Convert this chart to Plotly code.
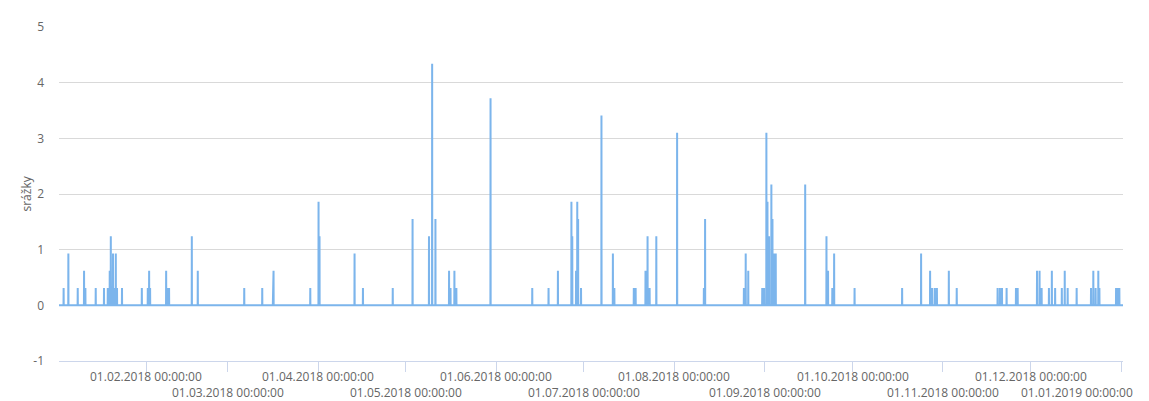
import pandas as pd
import plotly.graph_objects as go

# rain gauge readings (time of reading, mm); everything else is 0
event_times = [
    "2018-01-03 18:00", "2018-01-05 09:00", "2018-01-08 14:00", "2018-01-10 18:00",
    "2018-01-11 05:00", "2018-01-14 18:00", "2018-01-17 14:00", "2018-01-18 21:00",
    "2018-01-19 13:00", "2018-01-19 22:00", "2018-01-20 06:00", "2018-01-20 16:00",
    "2018-01-21 03:00", "2018-01-21 15:00", "2018-01-22 01:00", "2018-01-23 18:00",
    "2018-01-30 13:00", "2018-02-01 14:00", "2018-02-02 01:00", "2018-02-02 09:00",
    "2018-02-07 21:00", "2018-02-08 11:00", "2018-02-08 21:00", "2018-02-16 16:00",
    "2018-02-18 17:00", "2018-03-06 15:00", "2018-03-12 19:00", "2018-03-16 11:00",
    "2018-03-16 16:00", "2018-03-29 06:00", "2018-04-01 02:00", "2018-04-01 10:00",
    "2018-04-13 10:00", "2018-04-16 07:00", "2018-04-26 12:00", "2018-05-03 07:00",
    "2018-05-08 22:00", "2018-05-10 00:00", "2018-05-11 03:00", "2018-05-15 19:00",
    "2018-05-16 07:00", "2018-05-17 15:00", "2018-05-18 07:00", "2018-05-30 00:00",
    "2018-06-13 07:00", "2018-06-18 21:00", "2018-06-22 02:00", "2018-06-26 17:00",
    "2018-06-27 00:00", "2018-06-28 07:00", "2018-06-28 17:00", "2018-06-29 00:00",
    "2018-06-30 00:00", "2018-07-07 00:00", "2018-07-10 22:00", "2018-07-11 10:00",
    "2018-07-18 02:00", "2018-07-18 17:00", "2018-07-22 02:00", "2018-07-22 19:00",
    "2018-07-23 12:00", "2018-07-25 19:00", "2018-08-01 22:00", "2018-08-11 02:00",
    "2018-08-11 12:00", "2018-08-24 19:00", "2018-08-25 10:00", "2018-08-26 07:00",
    "2018-08-31 02:00", "2018-08-31 17:00", "2018-09-01 12:00", "2018-09-01 21:00",
    "2018-09-02 10:00", "2018-09-03 05:00", "2018-09-03 14:00", "2018-09-04 02:00",
    "2018-09-04 17:00", "2018-09-14 19:00", "2018-09-22 02:00", "2018-09-22 15:00",
    "2018-09-24 02:00", "2018-09-24 17:00", "2018-10-01 17:00", "2018-10-18 00:00",
    "2018-10-24 12:00", "2018-10-27 14:00", "2018-10-28 07:00", "2018-10-29 05:00",
    "2018-10-29 22:00", "2018-11-03 00:00", "2018-11-05 17:00", "2018-11-19 17:00",
    "2018-11-20 12:00", "2018-11-21 05:00", "2018-11-22 19:00", "2018-11-26 00:00",
    "2018-11-26 14:00", "2018-12-03 05:00", "2018-12-04 02:00", "2018-12-04 19:00",
    "2018-12-07 07:00", "2018-12-08 07:00", "2018-12-09 10:00", "2018-12-11 17:00",
    "2018-12-12 17:00", "2018-12-13 17:00", "2018-12-16 19:00", "2018-12-21 17:00",
    "2018-12-22 12:00", "2018-12-23 07:00", "2018-12-24 05:00", "2018-12-24 14:00",
    "2018-12-30 07:00", "2018-12-30 22:00", "2018-12-31 10:00",
]
event_values = [
    0.31, 0.93, 0.31, 0.62,
    0.31, 0.31, 0.31, 0.31,
    0.62, 1.24, 0.31, 0.93,
    0.31, 0.93, 0.31, 0.31,
    0.31, 0.31, 0.62, 0.31,
    0.62, 0.31, 0.31, 1.24,
    0.62, 0.31, 0.31, 0.31,
    0.62, 0.31, 1.86, 1.24,
    0.93, 0.31, 0.31, 1.55,
    1.24, 4.34, 1.55, 0.62,
    0.31, 0.62, 0.31, 3.72,
    0.31, 0.31, 0.62, 1.86,
    1.24, 0.62, 1.86, 1.55,
    0.31, 3.41, 0.93, 0.31,
    0.31, 0.31, 0.62, 1.24,
    0.31, 1.24, 3.10, 0.31,
    1.55, 0.31, 0.93, 0.62,
    0.31, 0.31, 3.10, 1.86,
    1.24, 2.17, 1.55, 0.93,
    0.93, 2.17, 1.24, 0.62,
    0.31, 0.93, 0.31, 0.31,
    0.93, 0.62, 0.31, 0.31,
    0.31, 0.62, 0.31, 0.31,
    0.31, 0.31, 0.31, 0.31,
    0.31, 0.62, 0.62, 0.31,
    0.31, 0.62, 0.31, 0.31,
    0.62, 0.31, 0.31, 0.31,
    0.62, 0.31, 0.62, 0.31,
    0.31, 0.31, 0.31,
]

series_start = "2018-01-02 04:00"
series_end = "2019-01-01 16:00"

tick_dates = [
    "2018-02-01", "2018-03-01", "2018-04-01", "2018-05-01", "2018-06-01", "2018-07-01",
    "2018-08-01", "2018-09-01", "2018-10-01", "2018-11-01", "2018-12-01", "2019-01-01",
]
tick_labels = [
    "01.02.2018 00:00:00", "01.03.2018 00:00:00", "01.04.2018 00:00:00",
    "01.05.2018 00:00:00", "01.06.2018 00:00:00", "01.07.2018 00:00:00",
    "01.08.2018 00:00:00", "01.09.2018 00:00:00", "01.10.2018 00:00:00",
    "01.11.2018 00:00:00", "01.12.2018 00:00:00", "01.01.2019 00:00:00",
]
y_ticks = [-1, 0, 1, 2, 3, 4, 5]

# hourly series: zero before and after each reading
hour = pd.Timedelta(hours=1)
xs = [pd.Timestamp(series_start)]
ys = [0]
for t, v in zip(pd.to_datetime(event_times), event_values):
    xs += [t - hour, t, t + hour]
    ys += [0, v, 0]
xs.append(pd.Timestamp(series_end))
ys.append(0)

font = "Open Sans, Lucida Grande, Arial, sans-serif"
label_font = dict(family=font, size=12, color="#666666")
fig = go.Figure()
fig.add_trace(go.Scatter(
    x=xs, y=ys, mode="lines",
    line=dict(color="#7cb5ec", width=2),
    hoverinfo="x+y", showlegend=False,
))

# staggered date labels like the original (two rows)
annotations = []
last = len(tick_dates) - 1
for i, (d, lab) in enumerate(zip(tick_dates, tick_labels)):
    ann = dict(
        x=d, y=0, xref="x", yref="paper", text=lab, showarrow=False,
        yanchor="top", yshift=-5 if i % 2 == 0 else -21,
        font=label_font,
    )
    if i == last:
        # last label is pushed left to stay inside the chart
        ann.update(x=1, xref="paper", xanchor="right", xshift=12)
    annotations.append(ann)
annotations.append(dict(
    x=0, y=0.5, xref="paper", yref="paper", text="srážky", showarrow=False,
    textangle=-90, xshift=-44, font=label_font,
))

# page body has an 8px margin, so the figure is 8px smaller than the window
fig.update_layout(
    width=1141, height=393,
    margin=dict(l=51, r=26, t=10, b=40),
    plot_bgcolor="white", paper_bgcolor="white",
    annotations=annotations,
    font=label_font,
)
fig.update_xaxes(
    type="date", range=[series_start, series_end],
    showgrid=False, zeroline=False,
    showline=True, linecolor="#ccd6eb", linewidth=1,
    tickvals=tick_dates, ticks="outside", ticklen=10, tickcolor="#ccd6eb",
    showticklabels=False,
)
fig.update_yaxes(
    range=[-1, 5], tickvals=y_ticks, ticktext=[str(v) for v in y_ticks],
    showgrid=True, gridcolor="#d9d9d9", gridwidth=1, zeroline=False,
    ticklabelstandoff=14, tickfont=label_font,
)

fig.write_html("out.html")
